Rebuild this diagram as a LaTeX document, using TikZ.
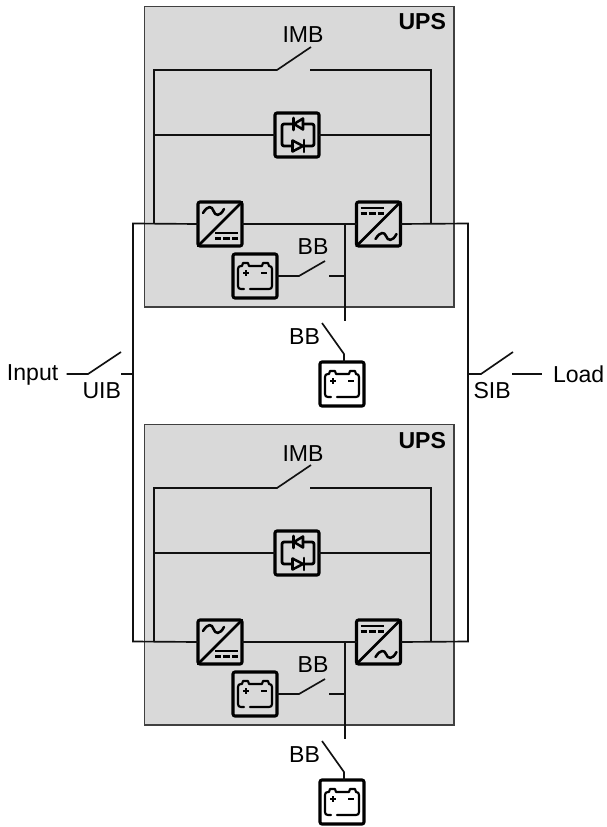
\documentclass[tikz,border=0pt]{standalone}
\usepackage{fontspec}
\setmainfont{Liberation Sans}
\definecolor{upsgray}{HTML}{D9D9D9}
\definecolor{upsedge}{HTML}{404040}
\definecolor{wire}{HTML}{111111}
\tikzset{
  wireline/.style={draw=wire,line width=1.25pt,line cap=butt},
  upsbox/.style={fill=upsgray,draw=upsedge,line width=1pt},
  iconbox/.style={draw=black,line width=2.3pt,rounded corners=1.5pt,minimum size=33pt,inner sep=0pt,outer sep=0pt,fill=#1},
  iconbox/.default=upsgray,
  thick icon/.style={draw=black,line width=2.1pt,line cap=round,line join=round},
  thin icon/.style={draw=black,line width=1.5pt,line cap=butt,line join=round},
  lab/.style={font=\fontsize{17.3}{19}\selectfont,inner sep=0pt,outer sep=0pt,text=black},
  pics/acdc/.style={code={
    \draw[thick icon] (-22,22) -- (22,-22);
    \draw[thick icon,line width=1.9pt] (-17,-11) .. controls (-12,-19) and (-8,-18) .. (-6.5,-13) .. controls (-5,-8) and (0,-7) .. (4,-15);
    \draw[thin icon,line width=1.9pt] (-5,9) -- (18,9);
    \draw[thin icon,line width=1.9pt] (-5,14.5) -- (1,14.5) (3,14.5) -- (10,14.5) (12,14.5) -- (18,14.5);
  }},
  pics/dcac/.style={code={
    \draw[thick icon] (-22,22) -- (22,-22);
    \draw[thick icon,line width=1.9pt] (-3,15) .. controls (2,7) and (6,8) .. (7.5,12) .. controls (9,17) and (14,18) .. (18,10);
    \draw[thin icon,line width=1.9pt] (-18,-16) -- (5,-16);
    \draw[thin icon,line width=1.9pt] (-18,-10.5) -- (-12,-10.5) (-10,-10.5) -- (-3,-10.5) (-1,-10.5) -- (5,-10.5);
  }},
  pics/cell/.style={code={
    \draw[thick icon,line width=1.6pt] (-11,13) -- (-14,13) .. controls (-16,13) and (-17,12) .. (-17,10) -- (-17,-7) .. controls (-17,-9) and (-16,-10) .. (-14,-10) -- (-13,-10) -- (-12,-13) -- (-7,-13) -- (-6,-10) -- (7,-10) -- (8,-13) -- (13,-13) -- (14,-10) .. controls (16,-10) and (17,-9) .. (17,-7) -- (17,10) .. controls (17,12) and (16,13) .. (14,13) -- (-5,13);
    \draw[thin icon] (-12,-3) -- (-6,-3) (-9,-6) -- (-9,0);
    \draw[thin icon,line width=1.7pt] (6,-3) -- (12,-3);
  }},
  pics/bypass/.style={code={
    \draw[thick icon,rounded corners=1.5pt] (-3,-11) -- (-15,-11) -- (-15,11) -- (-4,11);
    \draw[thick icon,rounded corners=1.5pt] (6,-11) -- (17,-11) -- (17,11) -- (7,11);
    \draw[thick icon,line width=1.9pt] (6,-16.5) -- (6,-5.5) -- (-3,-11) -- cycle;
    \draw[thick icon,line width=1.9pt] (-3.5,-17) -- (-3.5,-5);
    \draw[thick icon,line width=1.9pt] (-4.5,5.5) -- (-4.5,16.5) -- (6,11) -- cycle;
    \draw[thick icon,line width=1.9pt] (7,5) -- (7,17);
  }},
}
\newcommand{\upsmodule}[2]{%
  \begin{scope}[shift={(0,#2)}]
    \coordinate (#1tl) at (144.5,6.5);
    \coordinate (#1br) at (454,307);
    \path[upsbox] (#1tl) rectangle (#1br);
    \node[lab,font=\fontsize{17.3}{19}\selectfont\bfseries,anchor=base east] (#1ups) at (446,30) {UPS};
    \node[lab,anchor=base] (#1imblab) at (303,43) {IMB};
    \node[lab,anchor=base] (#1bblab) at (313,254) {BB};
    \node[lab,anchor=base] (#1bbout) at (304.5,344) {BB};
    \node[iconbox] (#1rect) at (220,224) {};
    \node[iconbox] (#1inv) at (378.5,224) {};
    \node[iconbox] (#1byp) at (297,135) {};
    \node[iconbox] (#1bat) at (255,276) {};
    \node[iconbox=white] (#1ext) at (342,384) {};
    \coordinate (#1imbl) at (154,70);
    \coordinate (#1imbr) at (431,70);
    \coordinate (#1sw) at (277,70);
    \coordinate (#1swt) at (311,47);
    \coordinate (#1swr) at (310,70);
    \coordinate (#1busl) at (154,223.5);
    \coordinate (#1busr) at (431,223.5);
    \coordinate (#1bypl) at (154,135);
    \coordinate (#1bypr) at (431,135);
    \coordinate (#1j) at (345,223.5);
    \coordinate (#1jb) at (345,276);
    \coordinate (#1vend) at (345,321);
    \coordinate (#1bbs) at (299,276);
    \coordinate (#1bbt) at (325,261);
    \coordinate (#1bbr) at (329,276);
    \coordinate (#1xt) at (322,323);
    \coordinate (#1xk) at (344,354);
    \draw[wireline] (#1busl) -- (#1imbl) -- (#1sw) -- (#1swt);
    \draw[wireline] (#1swr) -- (#1imbr) -- (#1busr);
    \draw[wireline] (#1bypl) -- (#1byp.west);
    \draw[wireline] (#1byp.east) -- (#1bypr);
    \draw[wireline] (#1rect.east) -- (#1inv.west);
    \draw[wireline] (#1j) -- (#1vend);
    \draw[wireline] (#1bat.east) -- (#1bbs) -- (#1bbt);
    \draw[wireline] (#1bbr) -- (#1jb);
    \draw[wireline] (#1xt) -- (#1xk) -- (#1xk |- #1ext.north);
    \pic at (#1rect) {acdc};
    \pic at (#1inv) {dcac};
    \pic at (#1byp) {bypass};
    \pic at (#1bat) {cell};
    \pic at (#1ext) {cell};
  \end{scope}}
\begin{document}
\begin{tikzpicture}[x=0.75pt,y=-0.75pt]
  \useasboundingbox (0,0) rectangle (606,827);
  \upsmodule{a}{0}
  \upsmodule{b}{418}
  \coordinate (railtl) at (133,223.5);
  \coordinate (railbl) at (133,641.5);
  \coordinate (railtr) at (468,223.5);
  \coordinate (railbr) at (468,641.5);
  \coordinate (uibj) at (133,374);
  \coordinate (uibr) at (121,374);
  \coordinate (uibt) at (121,352);
  \coordinate (uibh) at (88,374);
  \coordinate (uibl) at (66.5,374);
  \coordinate (sibj) at (468,374);
  \coordinate (sibh) at (481,374);
  \coordinate (sibt) at (513,352);
  \coordinate (sibr) at (512,374);
  \coordinate (sibe) at (542,374);
  \draw[wireline] (arect.west) -- (railtl) -- (railbl) -- (brect.west);
  \draw[wireline] (ainv.east) -- (railtr) -- (railbr) -- (binv.east);
  \draw[wireline] (uibl) -- (uibh) -- (uibt);
  \draw[wireline] (uibr) -- (uibj);
  \draw[wireline] (sibj) -- (sibh) -- (sibt);
  \draw[wireline] (sibr) -- (sibe);
  \node[lab,anchor=base west] (input) at (7,380.5) {Input};
  \node[lab,anchor=base west] (uib) at (82.5,398) {UIB};
  \node[lab,anchor=base west] (sib) at (473.5,398) {SIB};
  \node[lab,anchor=base west] (load) at (553,382) {Load};
\end{tikzpicture}
\end{document}
